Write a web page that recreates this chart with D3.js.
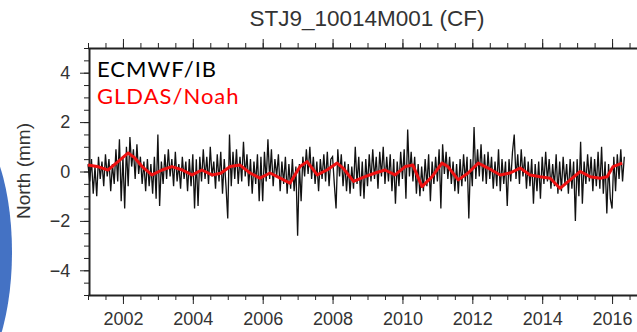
<!DOCTYPE html>
<html>
<head>
<meta charset="utf-8">
<script src="https://cdn.jsdelivr.net/npm/d3@7"></script>
<style>
  body { margin: 0; background: #fff; }
  svg { display: block; }
  .axis path, .axis line { stroke: #222; }
  .axis text { font-family: "Liberation Sans", Arial, sans-serif; font-size: 18px; fill: #333; }
  .legend { font-family: Lato, "Open Sans", sans-serif; font-size: 22px; letter-spacing: 1px; }
</style>
</head>
<body>
<div id="chart-area"></div>
<script>
const title = "STJ9_10014M001 (CF)";
const yLabel = "North (mm)";
const legendNames = ["ECMWF/IB", "GLDAS/Noah"];
const xTickYears = [2002, 2004, 2006, 2008, 2010, 2012, 2014, 2016];
const yTickValues = [-4, -2, 0, 2, 4];

// ECMWF/IB: regular samples, every 0.05 yr from 2001.0
const ecmwfStart = 2001.0;
const ecmwfStep = 0.05;
const ecmwfValues = [
  0.3,-0.4,0.5,-0.9,0.2,-1.0,0.6,-0.3,0.4,-0.6,0.7,-0.2,0.5,-0.8,0.3,-0.5,0.9,-0.4,1.3,-1.2,
  0.6,-1.5,1.0,-0.6,1.4,0.2,0.9,-0.3,1.1,-0.1,0.6,-0.5,0.4,-0.8,0.5,-0.6,0.3,-0.9,0.6,-1.1,
  1.5,-1.4,0.4,-0.5,0.7,-0.3,0.9,-0.2,0.5,-0.6,0.8,-0.4,0.3,-0.7,0.6,-0.3,0.4,-0.8,0.5,-0.6,
  0.7,-1.5,0.5,-1.4,0.6,-0.4,0.9,-0.3,0.6,-0.5,1.0,-0.2,0.4,-0.7,0.7,-0.4,0.8,-0.9,0.5,-0.6,
  -1.9,1.5,-0.6,0.8,-0.3,0.9,-0.5,0.6,-0.4,1.2,-0.2,0.7,-0.6,0.5,-0.9,0.4,-0.5,0.7,-1.2,0.6,
  -1.2,0.8,-0.4,1.3,-0.3,0.9,-0.6,0.5,-0.2,0.7,-0.8,0.4,-0.5,0.6,-0.9,0.3,-0.7,0.5,-0.8,0.2,
  -2.6,0.3,-1.2,0.6,-0.2,0.9,-0.1,1.0,-0.3,0.6,-0.5,0.4,-0.8,0.5,-0.3,0.7,-0.4,0.8,-0.6,0.5,
  0.6,-0.5,-1.5,0.9,-0.2,0.7,-0.6,0.4,-0.8,0.3,-0.9,0.2,-0.7,1.0,-0.5,0.6,-1.0,0.4,-1.1,0.5,
  -0.6,0.7,-0.4,0.9,-0.3,0.6,-0.7,0.8,-0.2,1.0,-0.5,0.6,-0.4,0.7,-0.8,0.5,-1.3,0.4,-0.6,0.8,
  -0.3,0.9,-1.1,1.7,-0.2,0.8,-0.4,0.6,-0.9,0.3,-1.0,0.2,-0.8,0.5,-0.6,0.7,-1.2,0.4,-0.5,0.6,
  -0.4,0.9,-1.5,1.1,-0.1,0.8,-0.3,0.6,-0.5,0.4,-0.8,0.3,-0.9,0.5,-0.6,0.7,-0.4,0.6,-1.9,0.5,
  -0.6,1.8,-0.3,0.9,-0.2,1.1,-0.4,0.7,-0.5,0.8,-0.3,0.6,-0.7,0.4,-0.6,0.9,-0.8,0.5,-0.5,0.4,
  -1.4,0.5,-0.4,0.8,1.5,-0.3,0.7,-0.5,0.9,-0.2,0.6,-0.7,0.4,-0.6,0.5,-1.3,0.3,-0.8,0.4,-1.1,
  0.6,-0.5,0.8,-0.4,0.5,-0.7,0.3,-0.6,0.7,-0.9,0.4,-0.8,0.6,-0.5,0.3,-0.9,0.5,-0.7,0.4,-2.0,
  0.5,-1.0,1.2,-1.3,0.4,-0.5,0.7,-0.4,0.6,-0.8,0.5,-0.6,0.8,-0.7,1.0,-0.9,0.4,-1.7,0.3,-1.1,
  -1.5,0.6,-0.8,0.7,-0.3,0.9,-0.4,0.6
];

// GLDAS/Noah: smoother curve, read at irregular years
const gldasYears = [
  2001.0, 2001.3, 2001.57, 2001.86, 2002.15, 2002.34, 2002.55, 2002.83, 2003.12, 2003.4,
  2003.7, 2003.98, 2004.26, 2004.55, 2004.8, 2005.07, 2005.35, 2005.64, 2005.92, 2006.21,
  2006.5, 2006.78, 2007.07, 2007.27, 2007.56, 2007.84, 2008.13, 2008.3, 2008.6, 2008.93,
  2009.22, 2009.5, 2009.79, 2010.08, 2010.3, 2010.56, 2010.85, 2011.13, 2011.3, 2011.6,
  2011.88, 2012.17, 2012.45, 2012.8, 2013.08, 2013.37, 2013.65, 2013.94, 2014.23, 2014.51,
  2014.8, 2015.09, 2015.37, 2015.66, 2015.86, 2016.03, 2016.29
];
const gldasValues = [
  0.26, 0.19, 0.06, 0.4, 0.75, 0.55, 0.2, -0.14, 0.06, 0.2,
  0.06, -0.14, 0.06, -0.14, -0.07, 0.2, 0.26, -0.06, -0.27, -0.06,
  -0.27, -0.47, 0.2, 0.4, -0.14, 0.06, 0.34, 0.14, -0.4, -0.21,
  -0.06, 0.06, -0.14, 0.2, 0.26, -0.61, -0.21, 0.34, 0.2, -0.34,
  -0.06, 0.34, 0.14, -0.14, -0.06, 0.14, -0.14, -0.21, -0.27, -0.68,
  -0.34, 0, -0.21, -0.27, -0.21, 0.2, 0.34
];

const chartSize = { width: 637, height: 332 };
const plot = { left: 88, right: 647, top: 48, bottom: 295 };

const svg = d3.select("#chart-area")
  .append("svg")
  .attr("width", chartSize.width)
  .attr("height", chartSize.height);

const x = d3.scaleLinear().domain([2001, 2017]).range([plot.left, plot.right]);
const y = d3.scaleLinear().domain([-5, 5]).range([plot.bottom, plot.top]);

// decorative blue shape on the left edge
svg.append("ellipse")
  .attr("cx", -40).attr("cy", 252)
  .attr("rx", 52).attr("ry", 134)
  .attr("fill", "#4472c4");

svg.append("text")
  .attr("x", 367).attr("y", 26)
  .attr("text-anchor", "middle")
  .style("font-family", "Liberation Sans, Arial, sans-serif")
  .style("font-size", "22.5px")
  .style("fill", "#333")
  .text(title);

svg.append("text")
  .attr("transform", "translate(30,171) rotate(-90)")
  .attr("text-anchor", "middle")
  .style("font-family", "Liberation Sans, Arial, sans-serif")
  .style("font-size", "19px")
  .style("fill", "#333")
  .text(yLabel);

const minorX = d3.range(2001, 2017.01, 0.5);
const minorY = d3.range(-5, 5.01, 0.5);

// minor ticks first, then major ticks with labels
const addAxis = function(axisFn, scale, major, minor, transform, labels) {
  svg.append("g").attr("class", "axis")
    .attr("transform", transform)
    .call(axisFn(scale).tickValues(minor).tickSize(5).tickFormat(""))
    .call(g => g.select(".domain").remove());
  const a = svg.append("g").attr("class", "axis")
    .attr("transform", transform)
    .call(axisFn(scale).tickValues(major).tickSize(9).tickSizeOuter(0).tickPadding(labels ? 8 : 0)
      .tickFormat(labels ? d3.format("d") : ""));
  a.select(".domain").attr("stroke-width", 2);
  return a;
};

addAxis(d3.axisBottom, x, xTickYears, minorX, `translate(0,${plot.bottom})`, true);
addAxis(d3.axisTop, x, xTickYears, minorX, `translate(0,${plot.top})`, false);
addAxis(d3.axisLeft, y, yTickValues, minorY, `translate(${plot.left + 1},0)`, true)
  .selectAll("text").attr("dx", "-0.1em");

const ecmwf = ecmwfValues.map((v, i) => ({ t: ecmwfStart + i * ecmwfStep, v }));
const gldas = gldasYears.map((t, i) => ({ t, v: gldasValues[i] }));

const line = d3.line().x(d => x(d.t)).y(d => y(d.v));

svg.append("path")
  .attr("d", line(ecmwf))
  .attr("fill", "none")
  .attr("stroke", "#111")
  .attr("stroke-width", 1.3);

svg.append("path")
  .attr("d", line(gldas))
  .attr("fill", "none")
  .attr("stroke", "#ee1111")
  .attr("stroke-width", 3)
  .attr("stroke-linejoin", "round");

svg.append("text")
  .attr("class", "legend")
  .attr("x", 97).attr("y", 77)
  .style("fill", "#000")
  .text(legendNames[0]);

svg.append("text")
  .attr("class", "legend")
  .attr("x", 97).attr("y", 104)
  .style("fill", "#ff0000")
  .text(legendNames[1]);
</script>
</body>
</html>
